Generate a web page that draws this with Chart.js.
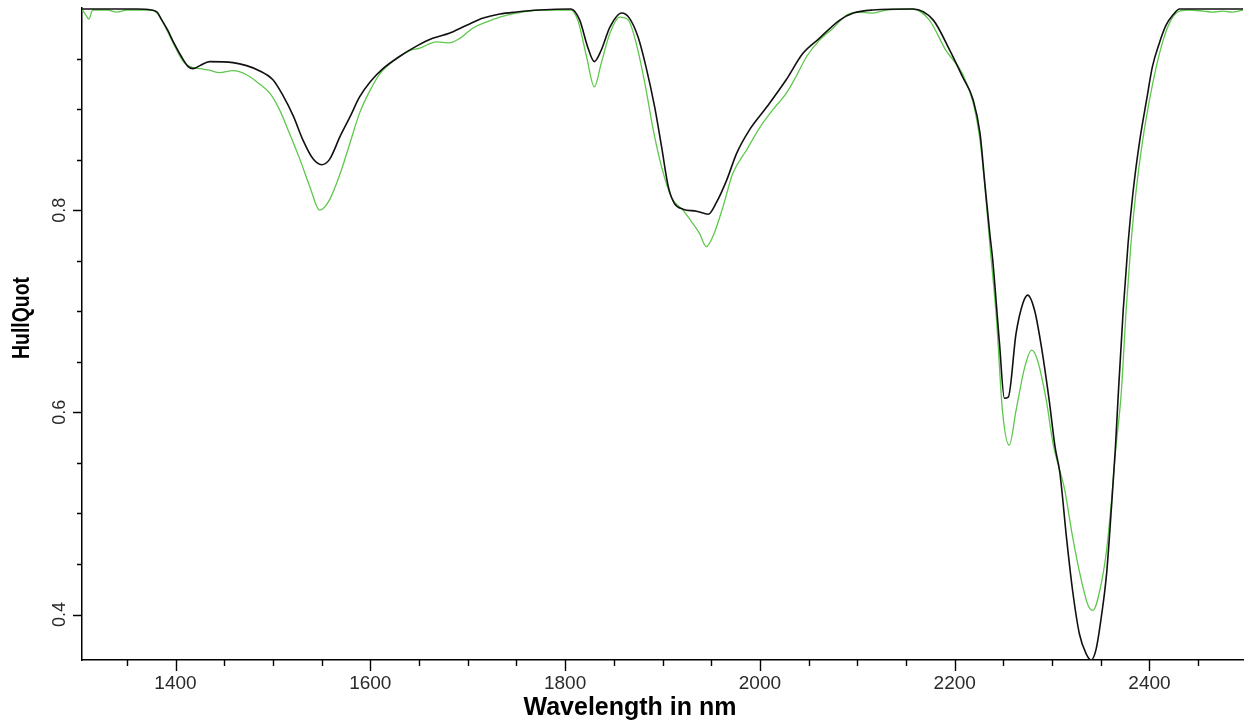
<!DOCTYPE html>
<html>
<head>
<meta charset="utf-8">
<title>HullQuot</title>
<script src="https://cdn.jsdelivr.net/npm/chart.js@4.4.1/dist/chart.umd.min.js"></script>
<style>
  html, body { margin: 0; padding: 0; background: #ffffff; }
  #wrap { width: 1250px; height: 727px; position: relative; }
</style>
</head>
<body>
<div id="wrap"><canvas id="chart" width="1250" height="727"></canvas></div>
<script>
// Hull quotient spectra (continuum removed), wavelength in nm
const wavelengthBlack = [
  1304, 1330, 1360, 1375, 1381, 1386, 1392, 1397, 1406, 1413,
  1418, 1425, 1435, 1459, 1473, 1486, 1500, 1510, 1521, 1531,
  1541, 1550, 1558, 1569, 1579, 1589, 1600, 1613, 1630, 1647,
  1664, 1681, 1699, 1716, 1733, 1750, 1774, 1806, 1815, 1823,
  1830, 1837, 1846, 1858, 1866, 1875, 1883, 1892, 1899, 1906,
  1912, 1921, 1935, 1947, 1955, 1966, 1976, 1989, 2007, 2027,
  2044, 2061, 2082, 2096, 2116, 2157, 2178, 2195, 2208, 2219,
  2226, 2231, 2236, 2239, 2246, 2251, 2255, 2263, 2270, 2275,
  2282, 2289, 2297, 2303, 2308, 2315, 2321, 2328, 2335, 2340,
  2345, 2350, 2356, 2361, 2365, 2368, 2373, 2378, 2383, 2390,
  2397, 2403, 2410, 2417, 2424, 2431, 2460, 2496
];
const hullBlack = [
  0.999, 0.999, 0.999, 0.998, 0.996, 0.988, 0.978, 0.968, 0.952, 0.942,
  0.940, 0.943, 0.947, 0.946, 0.943, 0.938, 0.929, 0.914, 0.893, 0.869,
  0.851, 0.845, 0.850, 0.873, 0.892, 0.912, 0.927, 0.940, 0.952, 0.962,
  0.970, 0.975, 0.983, 0.990, 0.994, 0.996, 0.998, 0.999, 0.988, 0.962,
  0.947, 0.958, 0.981, 0.995, 0.990, 0.971, 0.942, 0.902, 0.863, 0.823,
  0.807, 0.801, 0.799, 0.796, 0.807, 0.830, 0.856, 0.879, 0.902, 0.929,
  0.955, 0.970, 0.988, 0.995, 0.998, 0.999, 0.988, 0.958, 0.932, 0.909,
  0.876, 0.826, 0.777, 0.751, 0.668, 0.614, 0.615, 0.678, 0.708, 0.716,
  0.701, 0.665, 0.612, 0.566, 0.540, 0.474, 0.424, 0.381, 0.361, 0.355,
  0.365, 0.394, 0.441, 0.507, 0.565, 0.619, 0.701, 0.767, 0.817, 0.869,
  0.909, 0.942, 0.965, 0.983, 0.993, 0.999, 0.999, 0.999
];

const wavelengthGreen = [
  1304, 1308, 1311, 1315, 1330, 1340, 1350, 1375, 1381, 1387,
  1397, 1408, 1415, 1425, 1435, 1445, 1459, 1473, 1486, 1497,
  1507, 1517, 1528, 1538, 1548, 1558, 1569, 1579, 1589, 1600,
  1610, 1623, 1641, 1650, 1668, 1681, 1692, 1705, 1719, 1733,
  1750, 1774, 1806, 1813, 1822, 1830, 1837, 1846, 1856, 1865,
  1873, 1882, 1890, 1899, 1909, 1921, 1931, 1938, 1945, 1953,
  1962, 1972, 1986, 2000, 2013, 2027, 2037, 2048, 2061, 2075,
  2089, 2102, 2116, 2130, 2157, 2174, 2191, 2208, 2219, 2226,
  2231, 2236, 2243, 2249, 2256, 2263, 2272, 2279, 2285, 2294,
  2301, 2313, 2321, 2330, 2337, 2342, 2349, 2356, 2361, 2365,
  2371, 2376, 2381, 2386, 2393, 2400, 2407, 2414, 2421, 2429,
  2440, 2455, 2465, 2475, 2485, 2496
];
const hullGreen = [
  0.999, 0.993, 0.989, 0.998, 0.998, 0.996, 0.998, 0.998, 0.995, 0.986,
  0.9665, 0.947, 0.942, 0.940, 0.9385, 0.936, 0.938, 0.934, 0.925, 0.9155,
  0.899, 0.876, 0.8495, 0.823, 0.800, 0.810, 0.836, 0.866, 0.896, 0.919,
  0.935, 0.947, 0.958, 0.960, 0.9665, 0.9655, 0.970, 0.980, 0.986, 0.991,
  0.995, 0.998, 0.998, 0.988, 0.952, 0.922, 0.945, 0.975, 0.991, 0.988,
  0.965, 0.925, 0.882, 0.843, 0.813, 0.800, 0.787, 0.777, 0.764, 0.777,
  0.803, 0.836, 0.859, 0.882, 0.899, 0.9155, 0.932, 0.952, 0.968, 0.980,
  0.993, 0.996, 0.995, 0.998, 0.999, 0.988, 0.958, 0.935, 0.906, 0.869,
  0.823, 0.767, 0.691, 0.602, 0.5675, 0.602, 0.645, 0.6615, 0.6516, 0.612,
  0.569, 0.523, 0.477, 0.434, 0.409, 0.404, 0.424, 0.464, 0.513, 0.560,
  0.619, 0.701, 0.767, 0.817, 0.869, 0.909, 0.942, 0.968, 0.986, 0.996,
  0.998, 0.997, 0.996, 0.997, 0.996, 0.998
];

// Axis ticks: labelled (major) and unlabelled (minor) positions
const xTickValues = [
  1350, 1400, 1450, 1500, 1550, 1600, 1650, 1700, 1750, 1800, 1850, 1900,
  1950, 2000, 2050, 2100, 2150, 2200, 2250, 2300, 2350, 2400, 2450
];
const xTickLabels = [1400, 1600, 1800, 2000, 2200, 2400];
const yTickValues = [0.40, 0.45, 0.50, 0.55, 0.60, 0.65, 0.70, 0.75, 0.80, 0.85, 0.90, 0.95];
const yTickLabels = [0.4, 0.6, 0.8];

const X_TITLE = 'Wavelength in nm';
const Y_TITLE = 'HullQuot';

const FONT = '"Liberation Sans", Arial, Helvetica, sans-serif';

const toPoints = (xs, ys) => xs.map((x, i) => ({ x: x, y: ys[i] }));
const isLabelY = v => yTickLabels.some(t => Math.abs(t - v) < 1e-6);
const isLabelX = v => xTickLabels.some(t => Math.abs(t - v) < 1e-6);

// Tick marks (long for labelled ticks, short otherwise) and axis titles
const axisDecor = {
  id: 'axisDecor',
  afterDraw(chart) {
    const { ctx, chartArea } = chart;
    const xs = chart.scales.x;
    const ys = chart.scales.y;
    ctx.save();
    ctx.strokeStyle = '#000';
    ctx.lineWidth = 1.4;
    ctx.beginPath();
    xTickValues.forEach(v => {
      const px = Math.round(xs.getPixelForValue(v)) + 0.5;
      const len = isLabelX(v) ? 11 : 6;
      ctx.moveTo(px, chartArea.bottom);
      ctx.lineTo(px, chartArea.bottom + len);
    });
    yTickValues.forEach(v => {
      const py = Math.round(ys.getPixelForValue(v)) + 0.5;
      const len = isLabelY(v) ? 9 : 5;
      ctx.moveTo(chartArea.left, py);
      ctx.lineTo(chartArea.left - len, py);
    });
    ctx.stroke();

    ctx.fillStyle = '#000';
    ctx.textAlign = 'center';
    ctx.textBaseline = 'middle';
    ctx.font = 'bold 25px ' + FONT;
    ctx.fillText(X_TITLE, 630, 708);

    ctx.translate(23, 318);
    ctx.rotate(-Math.PI / 2);
    ctx.font = 'bold 23px ' + FONT;
    ctx.fillText(Y_TITLE, 0, 0, 82);
    ctx.restore();
  }
};

new Chart(document.getElementById('chart'), {
  type: 'line',
  data: {
    datasets: [
      {
        label: 'black',
        data: toPoints(wavelengthBlack, hullBlack),
        borderColor: '#111111',
        borderWidth: 1.6,
        pointRadius: 0,
        cubicInterpolationMode: 'monotone',
        fill: false
      },
      {
        label: 'green',
        data: toPoints(wavelengthGreen, hullGreen),
        borderColor: '#5ec84c',
        borderWidth: 1.3,
        pointRadius: 0,
        cubicInterpolationMode: 'monotone',
        fill: false
      }
    ]
  },
  options: {
    responsive: false,
    animation: false,
    events: [],
    layout: { padding: { top: 8, right: 7, left: 0, bottom: 0 } },
    plugins: {
      legend: { display: false },
      tooltip: { enabled: false },
      title: { display: false }
    },
    scales: {
      x: {
        type: 'linear',
        min: 1304,
        max: 2496,
        afterBuildTicks: s => { s.ticks = xTickValues.map(value => ({ value })); },
        afterFit: s => { s.height = 67; s.paddingLeft = 0; s.paddingRight = 0; },
        grid: { display: false, drawTicks: false },
        border: { display: true, color: '#000', width: 1.5 },
        ticks: {
          autoSkip: false,
          minRotation: 0,
          maxRotation: 0,
          padding: 12,
          color: '#2a2a2a',
          font: { family: FONT, size: 19 },
          callback: v => (isLabelX(v) ? String(v) : '')
        },
        title: { display: false }
      },
      y: {
        type: 'linear',
        min: 0.355,
        max: 1.0,
        afterBuildTicks: s => { s.ticks = yTickValues.map(value => ({ value })); },
        afterFit: s => { s.width = 82; s.paddingTop = 0; s.paddingBottom = 0; },
        grid: { display: false, drawTicks: false },
        border: { display: true, color: '#000', width: 1.5 },
        ticks: {
          autoSkip: false,
          minRotation: 90,
          maxRotation: 90,
          crossAlign: 'center',
          padding: 9,
          color: '#2a2a2a',
          font: { family: FONT, size: 18 },
          callback: v => (isLabelY(v) ? v.toFixed(1) : '')
        },
        title: { display: false }
      }
    }
  },
  plugins: [axisDecor]
});
</script>
</body>
</html>
